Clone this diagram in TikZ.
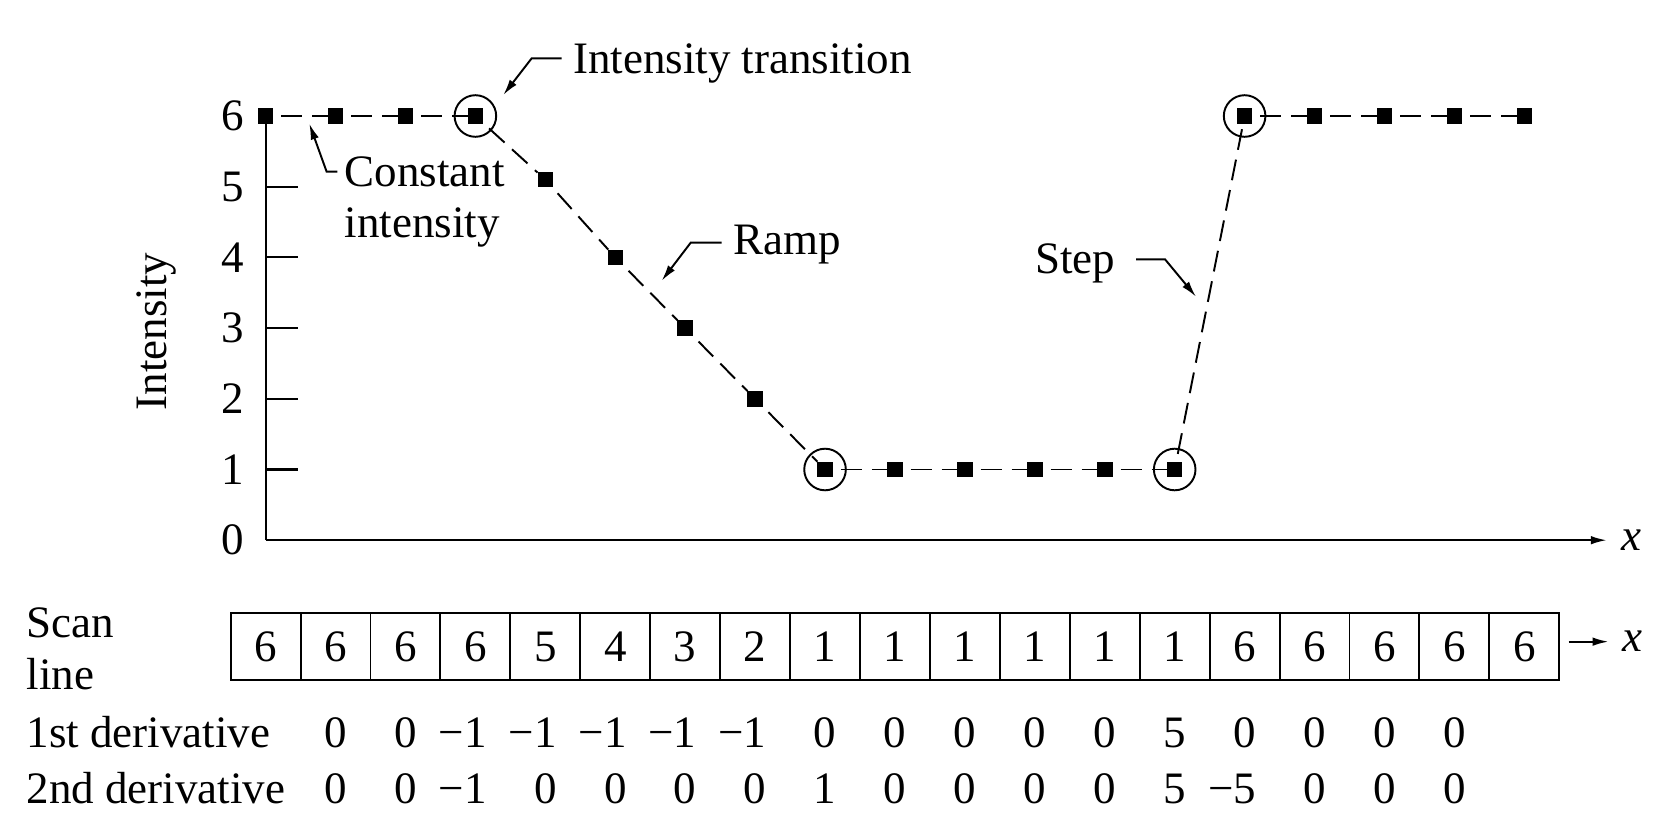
\documentclass[tikz,border=0pt]{standalone}
\usepackage{fontspec}
\setmainfont{Liberation Serif}
\usetikzlibrary{calc,arrows.meta,positioning}

\newcommand{\negval}[1]{\llap{−}#1}

\begin{document}
\begin{tikzpicture}[x=1.3986cm, y=1.414cm
    , every node/.style={inner sep=0pt, outer sep=0pt}
    , sample/.style={fill=black, minimum size=0.31cm}
    , ring/.style={draw, circle, line width=1.1pt, minimum size=0.832cm}
    , dashline/.style={line width=1.1pt, dash pattern=on 0.42cm off 0.2cm, dash phase=0.46cm}
    , axisline/.style={line width=1.2pt}
    , arrowtip/.style={-{Latex[length=0.32cm,width=0.17cm]}}
    , note/.style={line width=1.1pt, arrowtip}
    , cell/.style={draw, line width=1.1pt, minimum width=1.3986cm, minimum height=1.334cm}
]
    \fontsize{25.6pt}{29.4pt}\selectfont
    \useasboundingbox (-5.312cm,-5.696cm) rectangle (28.128cm,10.804cm);

    % Axes.
    \coordinate (origin) at (0,0);
    \coordinate (xend) at (19.18,0);
    \draw[axisline,arrowtip] (origin) -- (xend);
    \node[right=0.3cm of xend] (xlabel) {\textit{x}};
    \foreach \y in {0,...,6}
        \node[anchor=east] (ylab\y) at (-0.309,\y) {\y};
    \foreach \y in {1,...,5}
        \draw[axisline] (0,\y) -- (0.47,\y);
    \node[rotate=90] (ylabel) at (-1.557,2.952) {Intensity};

    % Profile.
    \foreach \v [count=\i from 0] in {6,6,6,6,5.1,4,3,2,1,1,1,1,1,1,6,6,6,6,6}
        \node[sample] (p\i) at (\i,\v) {};
    \draw[axisline] (origin) -- (p0);
    \foreach \i [remember=\i as \j (initially 0)] in {1,...,18}
        \draw[dashline] (p\j) -- (p\i);
    \foreach \i in {3,8,13,14}
        \node[ring] (ring\i) at (p\i) {};

    % Intensity transition
    \node[anchor=base west] (transition) at (4.400,6.604) {Intensity transition};
    \coordinate (transitiontip) at (3.399,6.297);
    \draw[note] ($(transition.base west)+(-0.166,0.212)$) -- ++(-0.429,0) -- (transitiontip);

    % Constant intensity
    \node[anchor=north west,align=left] (constant) at (1.135,5.431) {Constant\\intensity};
    \coordinate (constanttip) at (0.625,5.892);
    \draw[note] ($(constant.north west)+(-0.110,-0.219)$) -- ++(-0.152,0) -- (constanttip);

    % Ramp
    \node[anchor=base west] (ramp) at (6.688,4.034) {Ramp};
    \coordinate (ramptip) at (5.664,3.670);
    \draw[note] ($(ramp.base west)+(-0.166,0.174)$) -- ++(-0.443,0) -- (ramptip);

    % Step
    \node[anchor=base west] (steplabel) at (11.003,3.775) {Step};
    \coordinate (steptip) at (13.305,3.444);
    \draw[note] ($(steplabel.base east)+(0.300,0.198)$) -- ++(0.415,0) -- (steptip);

    % Scan line.
    \node[anchor=north west,align=left] (scanlabel) at (-3.416,-0.956) {Scan\\line};
    \foreach \v [count=\i from 0] in {6,6,6,6,5,4,3,2,1,1,1,1,1,1,6,6,6,6,6}
        \node[cell] (cell\i) at (\i,-1.505) {\v};
    \draw[axisline,arrowtip] ($(cell18.east)+(0.134,0.07)$) -- ++(0.572,0) coordinate (scanend);
    \node[right=0.28cm of scanend] (scanx) {\textit{x}};

    % Derivatives.
    \node[anchor=base west] (firstlabel) at (-3.416,-2.93) {1st derivative};
    \foreach \d [count=\i] in {0,0,\negval{1},\negval{1},\negval{1},\negval{1},\negval{1},0,0,0,0,0,5,0,0,0,0}
        \node[anchor=base] (firstd\i) at (\i,-2.93) {\d};

    \node[anchor=base west] (secondlabel) at (-3.416,-3.721) {2nd derivative};
    \foreach \d [count=\i] in {0,0,\negval{1},0,0,0,0,1,0,0,0,0,5,\negval{5},0,0,0}
        \node[anchor=base] (secondd\i) at (\i,-3.721) {\d};

\end{tikzpicture}
\end{document}
